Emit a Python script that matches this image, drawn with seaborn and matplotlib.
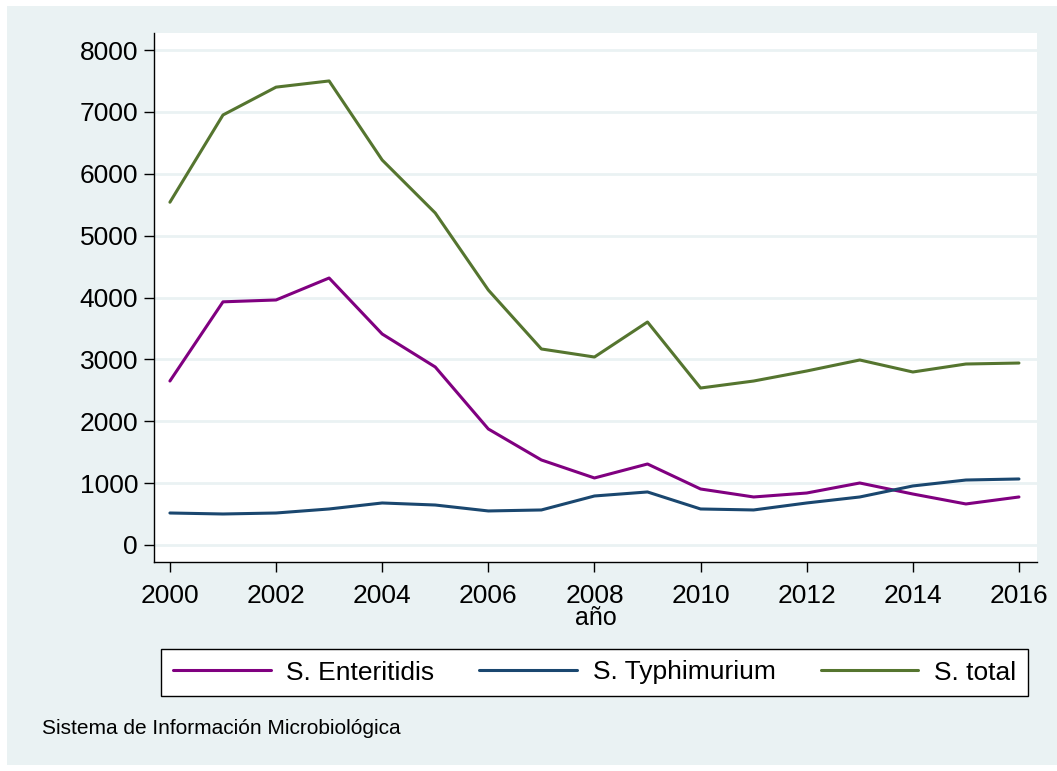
import numpy as np
import pandas as pd
import matplotlib
matplotlib.use("Agg")
import matplotlib.pyplot as plt
import seaborn as sns
from matplotlib.patches import Rectangle

years = list(range(2000, 2017))
enteritidis = [2650, 3930, 3960, 4315, 3410, 2877, 1875, 1374, 1083, 1309, 905, 776, 840, 1002, 824, 663, 776]
typhimurium = [517, 501, 517, 582, 679, 646, 550, 566, 792, 857, 582, 566, 679, 776, 954, 1050, 1067]
total = [5540, 6950, 7400, 7500, 6222, 5366, 4121, 3168, 3038, 3604, 2537, 2650, 2812, 2990, 2796, 2925, 2941]
series_names = ["S. Enteritidis", "S. Typhimurium", "S. total"]
colors = ["#800080", "#1a476f", "#55752f"]
y_ticks = [0, 1000, 2000, 3000, 4000, 5000, 6000, 7000, 8000]
x_ticks = list(range(2000, 2017, 2))

df = pd.DataFrame({
    "año": years * 3,
    "value": enteritidis + typhimurium + total,
    "serie": [series_names[0]] * len(years) + [series_names[1]] * len(years) + [series_names[2]] * len(years),
})

sns.set_style("white")
plt.rcParams["font.family"] = ["Liberation Sans", "DejaVu Sans"]
plt.rcParams["text.color"] = "black"
plt.rcParams["xtick.color"] = "black"
plt.rcParams["ytick.color"] = "black"
plt.rcParams["axes.labelcolor"] = "black"

W, H = 1057, 771
fig = plt.figure(figsize=(W / 100, H / 100), dpi=100)
fig.patch.set_facecolor("white")
bg = "#eaf2f3"
fig.patches.append(Rectangle((7 / W, 1 - 765 / H), 1 - 7 / W, (765 - 6) / H,
                             transform=fig.transFigure, facecolor=bg, edgecolor="none", zorder=-10))

ax = fig.add_axes([154 / W, 1 - 562 / H, (1037 - 154) / W, (562 - 33) / H])
ax.set_facecolor("white")

sns.lineplot(data=df, x="año", y="value", hue="serie", palette=colors, hue_order=series_names,
             linewidth=2.2, ax=ax, legend=False)

ax.set_xlim(1999.70, 2016.34)
ax.set_ylim(-275, 8275)
ax.set_yticks(y_ticks)
ax.set_yticklabels([str(v) for v in y_ticks])
ax.set_xticks(x_ticks)
ax.set_xticklabels([str(v) for v in x_ticks])
for v in y_ticks:
    ax.axhline(v, color=bg, linewidth=2, zorder=0)

for s in ["top", "right"]:
    ax.spines[s].set_visible(False)
for s in ["left", "bottom"]:
    ax.spines[s].set_color("black")
    ax.spines[s].set_linewidth(1.0)

ax.tick_params(axis="both", which="major", length=7.5, width=1.0, color="black",
               labelsize=19, pad=4, direction="out", left=True, bottom=True, labelcolor="black")
ax.tick_params(axis="x", pad=8)
ax.set_ylabel("")
ax.set_xlabel("año", fontsize=18, labelpad=-1, color="black")

handles = [plt.Line2D([], [], color=c, linewidth=2.2) for c in colors]
leg = fig.legend(handles, series_names, ncol=3, loc="center",
                 bbox_to_anchor=((162 + 1027) / 2 / W, 1 - 672.5 / H),
                 fontsize=19, frameon=True, fancybox=False, framealpha=1, handlelength=3.7,
                 handletextpad=0.6, columnspacing=1.7, borderpad=0.45)
leg.get_frame().set_edgecolor("black")
leg.get_frame().set_linewidth(1.0)
leg.get_frame().set_facecolor("white")

fig.text(42 / W, 1 - 728 / H, "Sistema de Información Microbiológica", fontsize=15,
         ha="left", va="center")

fig.savefig("out.png", dpi=100, facecolor=fig.get_facecolor())
